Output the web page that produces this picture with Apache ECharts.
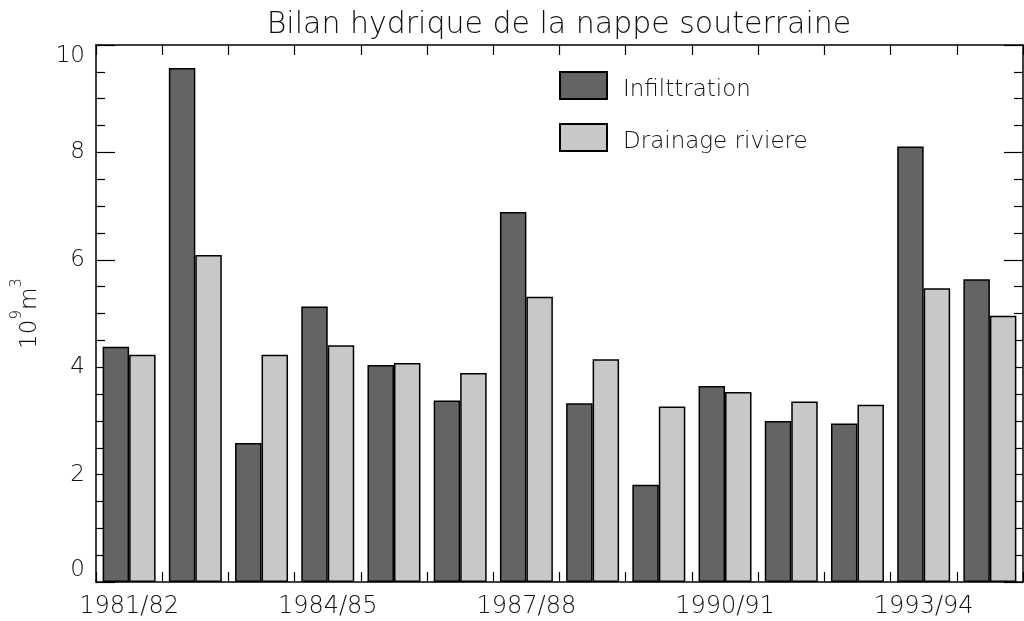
<!DOCTYPE html>
<html>
<head>
<meta charset="utf-8">
<script src="https://cdn.jsdelivr.net/npm/echarts@6/dist/echarts.min.js"></script>
<style>
  html, body { margin: 0; padding: 0; background: #fff; }
  #chart { width: 1024px; height: 621px; }
</style>
</head>
<body>
<div id="chart"></div>
<script>
// Hydrological years
const years = ['1981/82', '1982/83', '1983/84', '1984/85', '1985/86', '1986/87', '1987/88',
               '1988/89', '1989/90', '1990/91', '1991/92', '1992/93', '1993/94', '1994/95'];
// Volumes in 10^9 m^3
const infiltration = [4.38, 9.57, 2.59, 5.13, 4.04, 3.38, 6.89, 3.33, 1.81, 3.65, 3.00, 2.95, 8.11, 5.64];
const drainage     = [4.23, 6.09, 4.23, 4.41, 4.08, 3.89, 5.31, 4.15, 3.27, 3.54, 3.36, 3.30, 5.47, 4.96];
const seriesNames = ['Infilttration', 'Drainage riviere'];
const titleText = 'Bilan hydrique de la nappe souterraine';

const FONT = 'DejaVu Sans';
const INK = '#111';

const axisLine = { show: true, onZero: false, lineStyle: { color: '#000', width: 1.5 } };

const chart = echarts.init(document.getElementById('chart'), null, { renderer: 'canvas' });

chart.setOption({
  backgroundColor: '#fff',
  animation: false,
  title: {
    text: titleText,
    left: 559,
    top: 10,
    padding: 0,
    textAlign: 'center',
    textStyle: { fontFamily: FONT, fontSize: 30, fontWeight: 'lighter', color: INK }
  },
  legend: {
    orient: 'vertical',
    left: 559,
    top: 71,
    padding: 0,
    itemWidth: 47,
    itemHeight: 27,
    itemGap: 21,
    icon: 'rect',
    selectedMode: false,
    formatter: '{t|{name}}',
    textStyle: {
      fontFamily: FONT, fontSize: 23, fontWeight: 'lighter', color: INK,
      rich: { t: { fontFamily: FONT, fontSize: 23, fontWeight: 'lighter', color: INK, padding: [10, 0, 0, 11] } }
    },
    data: seriesNames
  },
  grid: { left: 96, right: 1, top: 45, bottom: 39, containLabel: false },
  xAxis: [
    {
      type: 'category',
      data: years,
      position: 'bottom',
      boundaryGap: true,
      axisLine: axisLine,
      axisTick: { show: true, inside: true, length: 10, alignWithLabel: false, interval: 0,
                  lineStyle: { color: '#000', width: 1.2 } },
      axisLabel: { show: true, interval: 2, margin: 13, fontFamily: FONT, fontSize: 24,
                   fontWeight: 'lighter', color: INK },
      splitLine: { show: false }
    },
    {
      type: 'category',
      data: years,
      position: 'top',
      boundaryGap: true,
      axisLine: axisLine,
      axisTick: { show: true, inside: true, length: 10, interval: 0,
                  lineStyle: { color: '#000', width: 1.2 } },
      axisLabel: { show: false },
      splitLine: { show: false }
    }
  ],
  yAxis: [
    {
      type: 'value',
      min: 0,
      max: 10,
      interval: 2,
      position: 'left',
      axisLine: axisLine,
      axisTick: { show: true, inside: true, length: 19, lineStyle: { color: '#000', width: 1.2 } },
      minorTick: { show: true, splitNumber: 4, length: 9, lineStyle: { color: '#000', width: 1.2 } },
      axisLabel: { show: true, margin: 11, fontFamily: FONT, fontSize: 23, fontWeight: 'lighter', color: INK,
                   verticalAlignMaxLabel: 'top', verticalAlignMinLabel: 'bottom' },
      splitLine: { show: false },
      name: '{b|10}{s|9}{b|m}{s|3}',
      nameLocation: 'middle',
      nameRotate: 90,
      nameGap: 54,
      nameTextStyle: {
        fontFamily: FONT, color: INK,
        rich: {
          b: { fontFamily: FONT, fontSize: 23, fontWeight: 'lighter', color: INK, lineHeight: 32, verticalAlign: 'bottom' },
          s: { fontFamily: FONT, fontSize: 15, fontWeight: 'lighter', color: INK, lineHeight: 32, verticalAlign: 'top' }
        }
      }
    },
    {
      type: 'value',
      min: 0,
      max: 10,
      interval: 2,
      position: 'right',
      axisLine: axisLine,
      axisTick: { show: true, inside: true, length: 19, lineStyle: { color: '#000', width: 1.2 } },
      minorTick: { show: true, splitNumber: 4, length: 9, lineStyle: { color: '#000', width: 1.2 } },
      axisLabel: { show: false },
      splitLine: { show: false }
    }
  ],
  series: [
    {
      name: seriesNames[0],
      type: 'bar',
      xAxisIndex: 0,
      yAxisIndex: 0,
      data: infiltration,
      barGap: '0%',
      barCategoryGap: '20%',
      itemStyle: { color: '#646464', borderColor: '#000', borderWidth: 1.5 }
    },
    {
      name: seriesNames[1],
      type: 'bar',
      xAxisIndex: 0,
      yAxisIndex: 0,
      data: drainage,
      barGap: '0%',
      barCategoryGap: '20%',
      itemStyle: { color: '#c8c8c8', borderColor: '#000', borderWidth: 1.5 }
    }
  ]
});
</script>
</body>
</html>
